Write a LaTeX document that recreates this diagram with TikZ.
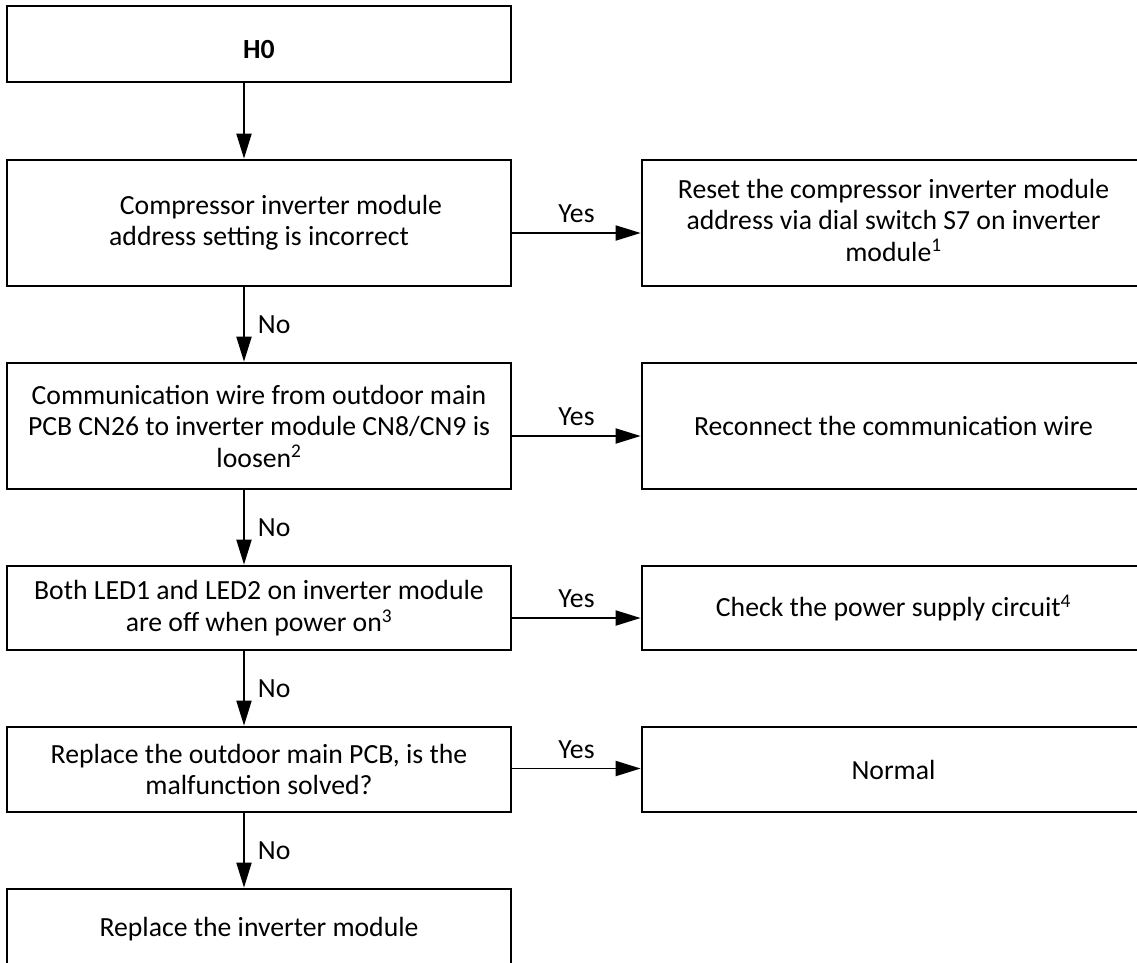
\documentclass[tikz,border=0pt]{standalone}
\usepackage{fontspec}
\setmainfont{Carlito}
\usetikzlibrary{arrows.meta}
\begin{document}
\begin{tikzpicture}[x=1pt,y=-1pt,
  box/.style={draw, line width=2.7pt, minimum width=504pt, inner sep=0pt, align=center, font=\fontsize{27.7}{31.5}\selectfont},
  rbox/.style={box, minimum width=503pt},
  arr/.style={line width=1.9pt, -{Triangle[length=25pt,width=15pt]}},
  lbl/.style={font=\fontsize{27.7}{31.5}\selectfont, inner sep=0pt}]
\useasboundingbox (0,0) rectangle (1137,962);
\clip (0,0) rectangle (1137,962);
% left column
\node[box, minimum height=76pt] (b0) at (259,44) {\raisebox{-5pt}[\height][0pt]{\textbf{H0}}};
\node[box, minimum height=126pt] (l1) at (259,223) {\hspace*{44pt}Compressor inverter module\\address setting is incorrect};
\node[box, minimum height=126pt] (l2) at (259,426) {Communication wire from outdoor main\\PCB CN26 to inverter module CN8/CN9 is\\loosen\textsuperscript{2}};
\node[box, minimum height=84pt] (l3) at (259,608) {Both LED1 and LED2 on inverter module\\are off when power on\textsuperscript{3}};
\node[box, minimum height=85pt] (l4) at (259,769.5) {Replace the outdoor main PCB, is the\\malfunction solved?};
\node[box, minimum height=81pt] (l5) at (259,929.5) {Replace the inverter module};
% right column
\node[rbox, minimum height=126pt] (r1) at (893.5,223) {\raisebox{3pt}[\height][\depth]{\parbox{503pt}{\centering Reset the compressor inverter module\\address via dial switch S7 on inverter\\module\textsuperscript{1}}}};
\node[rbox, minimum height=126pt] (r2) at (893.5,426) {Reconnect the communication wire};
\node[rbox, minimum height=84pt] (r3) at (893.5,608) {Check the power supply circuit\textsuperscript{4}};
\node[rbox, minimum height=85pt] (r4) at (893.5,769.5) {Normal};
% vertical connectors
\coordinate (ax) at (244,0);
\draw[arr] (b0.south -| ax) -- (l1.north -| ax);
\draw[arr] (l1.south -| ax) -- node[lbl, right=13pt] {No} (l2.north -| ax);
\draw[arr] (l2.south -| ax) -- node[lbl, right=13pt] {No} (l3.north -| ax);
\draw[arr] (l3.south -| ax) -- node[lbl, right=13pt] {No} (l4.north -| ax);
\draw[arr] (l4.south -| ax) -- node[lbl, right=13pt] {No} (l5.north -| ax);
% horizontal connectors
\coordinate (y1) at ([yshift=-10pt]l1.east);
\coordinate (y2) at ([yshift=-10pt]l2.east);
\coordinate (y3) at ([yshift=-10pt]l3.east);
\coordinate (y4) at ([yshift=1pt]l4.east);
\draw[arr] (y1) -- node[lbl, above=9pt] {Yes} (y1 -| r1.west);
\draw[arr] (y2) -- node[lbl, above=9pt] {Yes} (y2 -| r2.west);
\draw[arr] (y3) -- node[lbl, above=9pt] {Yes} (y3 -| r3.west);
\draw[arr] (y4) -- node[lbl, above=9pt] {Yes} (y4 -| r4.west);
\end{tikzpicture}
\end{document}
